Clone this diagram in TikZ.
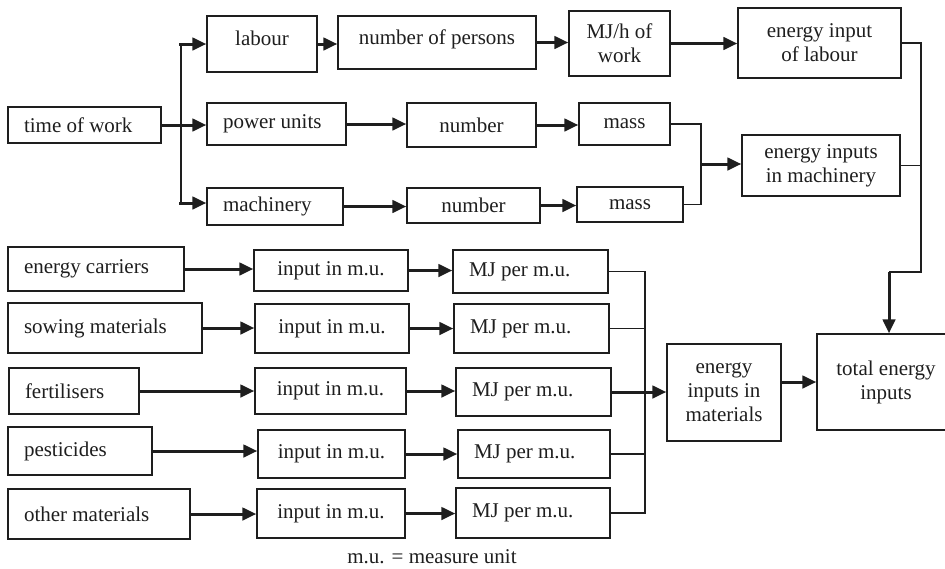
\documentclass[tikz,border=0pt]{standalone}
\usepackage{fontspec}
\setmainfont{Liberation Serif}
\usetikzlibrary{arrows.meta}
\definecolor{ink}{HTML}{1E1E1E}
\begin{document}
\begin{tikzpicture}[x=1pt, y=-1pt,
  box/.style={draw=ink, line width=1.4pt, inner sep=0pt, align=center,
    text=ink, font=\fontsize{21}{24}\selectfont},
  lbox/.style={box, inner xsep=16pt, align=flush left},
  raised/.style={text depth=11pt},
  thinline/.style={draw=ink, line width=1.3pt},
  thickline/.style={draw=ink, line width=3pt},
  arr/.style={thickline, -{Triangle[length=14pt,width=12.5pt]}}]
\useasboundingbox (0,0) rectangle (945,568);
\clip (0,0) rectangle (945,568);

% ---- time of work and its three branches
\node[lbox, text width=121pt, minimum height=36pt] (tw) at (84.5,125) {time of work};
\node[box, raised, minimum width=110pt, minimum height=56pt] (lab) at (262,44) {labour};
\node[box, raised, minimum width=198pt, minimum height=53pt] (nop) at (437,42.5) {number of persons};
\node[box, minimum width=101pt, minimum height=65pt] (mjh) at (619.5,43.5) {MJ/h of\\work};
\node[box, minimum width=163pt, minimum height=70pt] (eil) at (819.5,43) {energy input\\of labour};

\node[lbox, text width=107pt, minimum height=42pt] (pu) at (276.5,124) {power units};
\node[box, minimum width=129pt, minimum height=44pt] (nu1) at (471.5,125) {number};
\node[box, minimum width=91pt, minimum height=42pt] (ms1) at (624.5,124) {mass};

\node[lbox, text width=104pt, minimum height=37pt] (mach) at (275,206.5) {machinery};
\node[box, minimum width=133pt, minimum height=35pt] (nu2) at (473.5,205.5) {number};
\node[box, minimum width=106pt, minimum height=35pt] (ms2) at (630,204.5) {mass};

\node[box, minimum width=158pt, minimum height=61pt] (eim) at (821,165.5) {energy inputs\\in machinery};

% ---- materials
\node[lbox, text width=144pt, minimum height=44pt] (ec) at (96,269) {energy carriers};
\node[lbox, text width=162pt, minimum height=50pt] (sm) at (105,328) {sowing materials};
\node[lbox, text width=98pt, minimum height=46pt] (fe) at (74,391) {fertilisers};
\node[lbox, text width=112pt, minimum height=48pt] (pe) at (80,451) {pesticides};
\node[lbox, text width=150pt, minimum height=50pt] (om) at (99,514) {other materials};

\node[box, minimum width=154pt, minimum height=41pt] (i1) at (331,270.5) {input in m.u.};
\node[box, minimum width=154pt, minimum height=49pt] (i2) at (332,328.5) {input in m.u.};
\node[box, minimum width=151pt, minimum height=46pt] (i3) at (330.5,391) {input in m.u.};
\node[box, minimum width=147pt, minimum height=48pt] (i4) at (331.5,454) {input in m.u.};
\node[box, minimum width=148pt, minimum height=49pt] (i5) at (331,513.5) {input in m.u.};

\node[lbox, text width=123pt, minimum height=43pt] (m1) at (530.5,271.5) {MJ per m.u.};
\node[lbox, text width=123pt, minimum height=49pt] (m2) at (531.5,328.5) {MJ per m.u.};
\node[lbox, text width=123pt, minimum height=48pt] (m3) at (533.5,392) {MJ per m.u.};
\node[lbox, text width=120pt, minimum height=48pt] (m4) at (534,454) {MJ per m.u.};
\node[lbox, text width=122pt, minimum height=50pt] (m5) at (533,513) {MJ per m.u.};

\node[box, minimum width=114pt, minimum height=97pt] (eimat) at (724,392.5) {energy\\inputs in\\materials};
\node[box, minimum width=138pt, minimum height=96pt] (tot) at (886,382) {total energy\\inputs};

\node[text=ink, font=\fontsize{21}{24}\selectfont, anchor=base] (cap) at (432,563) {m.u. = measure unit};

% ---- connectors: time of work branches
\coordinate (s1) at (179,44);
\coordinate (s2) at (179,203);
\coordinate (j1) at (181,44);
\coordinate (j2) at (181,203);
\draw[thinline] (j1) -- (j2);
\draw[arr] (tw.east) -- (tw.east -| pu.west);
\draw[arr] (s1) -- (s1 -| lab.west);
\draw[arr] (s2) -- (s2 -| mach.west);

\draw[arr] (lab.east) -- (lab.east -| nop.west);
\draw[arr] (nop.east) -- (nop.east -| mjh.west);
\draw[arr] (mjh.east) -- (mjh.east -| eil.west);
\draw[arr] (pu.east) -- (pu.east -| nu1.west);
\draw[arr] (nu1.east) -- (nu1.east -| ms1.west);
\draw[arr] (mach.east) -- (mach.east -| nu2.west);
\draw[arr] (nu2.east) -- (nu2.east -| ms2.west);

% masses merge into machinery inputs
\coordinate (k) at (701,164);
\draw[thinline] (ms1.east) -| (k) |- (ms2.east);
\draw[arr] (k) -- (k -| eim.west);

% labour and machinery collected into the total
\coordinate (r) at (921,272);
\coordinate (d) at (889,272);
\draw[thinline] (eil.east) -| (r) -- (d);
\draw[thinline] (eim.east) -- (eim.east -| r);
\draw[arr] (d) -- (d |- tot.north);

% ---- connectors: materials
\draw[arr] (ec.east) -- (ec.east -| i1.west);
\draw[arr] (sm.east) -- (sm.east -| i2.west);
\draw[arr] (fe.east) -- (fe.east -| i3.west);
\draw[arr] (pe.east) -- (pe.east -| i4.west);
\draw[arr] (om.east) -- (om.east -| i5.west);

\draw[arr] (i1.east) -- (i1.east -| m1.west);
\draw[arr] (i2.east) -- (i2.east -| m2.west);
\draw[arr] (i3.east) -- (i3.east -| m3.west);
\draw[arr] (i4.east) -- (i4.east -| m4.west);
\draw[arr] (i5.east) -- (i5.east -| m5.west);

\coordinate (c) at (645,392);
\draw[thinline] (m1.east) -| (c) |- (m5.east);
\draw[thinline] (m2.east) -- (m2.east -| c);
\draw[thinline] (m4.east) -- (m4.east -| c);
\draw[arr] (m3.east) -- (m3.east -| eimat.west);

\draw[arr] (eimat.east |- tot.west) -- (tot.west);
\end{tikzpicture}
\end{document}
